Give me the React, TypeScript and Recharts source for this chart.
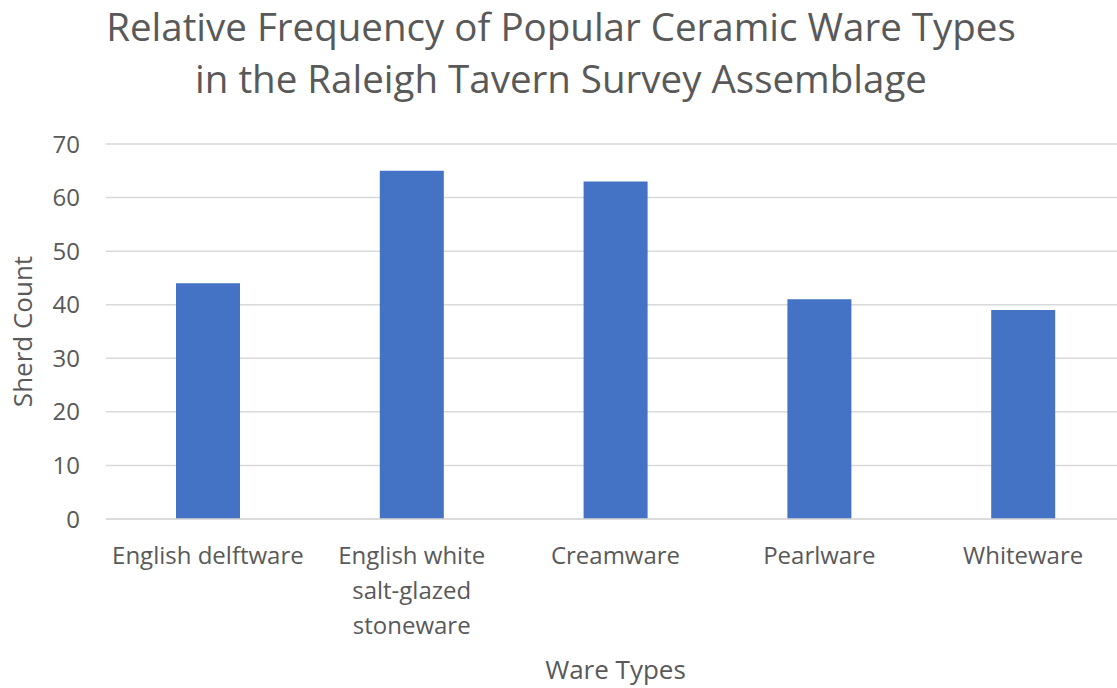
import React from "react";
import {
  BarChart,
  Bar,
  XAxis,
  YAxis,
  CartesianGrid,
  Label,
} from "recharts";

const wareTypes = [
  "English delftware",
  "English white salt-glazed stoneware",
  "Creamware",
  "Pearlware",
  "Whiteware",
];
const sherdCounts = [44, 65, 63, 41, 39];
const yTicks = [0, 10, 20, 30, 40, 50, 60, 70];

const titleLines = [
  "Relative Frequency of Popular Ceramic Ware Types",
  "in the Raleigh Tavern Survey Assemblage",
];

const data = wareTypes.map((name, i) => ({ name, count: sherdCounts[i] }));

const FONT = "'Open Sans', 'Noto Sans', sans-serif";
const TEXT = "#595959";

// crude word wrap, Excel breaks the long labels inside the category width
function wrap(label: string, maxChars = 17) {
  const words = label.split(" ");
  const lines: string[] = [];
  let cur = "";
  words.forEach((w) => {
    const next = cur ? cur + " " + w : w;
    if (next.length > maxChars && cur) {
      lines.push(cur);
      cur = w;
    } else {
      cur = next;
    }
  });
  if (cur) lines.push(cur);
  return lines;
}

function WareTick(props: any) {
  const { x, y, payload } = props;
  const lines = wrap(payload.value);
  return (
    <text
      x={x}
      y={y}
      textAnchor="middle"
      fill={TEXT}
      fontSize={24}
      fontFamily={FONT}
    >
      {lines.map((l, i) => (
        <tspan key={i} x={x} dy={i === 0 ? 45 : 35}>
          {l}
        </tspan>
      ))}
    </text>
  );
}

export default function App() {
  return (
    <div
      style={{
        position: "fixed",
        left: 0,
        top: 0,
        width: 1117,
        height: 688,
        overflow: "hidden",
        background: "#fff",
      }}
    >
      <div
        style={{
          position: "absolute",
          left: 0,
          top: 0,
          width: 1122,
          textAlign: "center",
          fontFamily: FONT,
          fontSize: 38.5,
          lineHeight: "52px",
          color: TEXT,
        }}
      >
        {titleLines.map((t) => (
          <div key={t}>{t}</div>
        ))}
      </div>
      <BarChart
        width={1125}
        height={688}
        data={data}
        margin={{ top: 144, right: 0, bottom: 0, left: 0 }}
        barSize={64}
      >
        <CartesianGrid
          vertical={false}
          stroke="#d9d9d9"
          strokeWidth={1.5}
        />
        <XAxis
          dataKey="name"
          axisLine={{ stroke: "#d9d9d9", strokeWidth: 1.5 }}
          tickLine={false}
          tickSize={0}
          tickMargin={0}
          interval={0}
          height={169}
          tick={<WareTick />}
        >
          <Label
            value="Ware Types"
            position="insideBottom"
            offset={9}
            fill={TEXT}
            fontSize={26}
            fontFamily={FONT}
          />
        </XAxis>
        <YAxis
          width={106}
          domain={[0, 70]}
          ticks={yTicks}
          axisLine={false}
          tickLine={false}
          tickSize={0}
          tickMargin={26}
          tick={{ fill: TEXT, fontSize: 24, fontFamily: FONT }}
        >
          <Label
            value="Sherd Count"
            angle={-90}
            position="insideLeft"
            offset={23}
            style={{ textAnchor: "middle" }}
            fill={TEXT}
            fontSize={26}
            fontFamily={FONT}
          />
        </YAxis>
        <Bar dataKey="count" fill="#4472C4" isAnimationActive={false} />
      </BarChart>
    </div>
  );
}
